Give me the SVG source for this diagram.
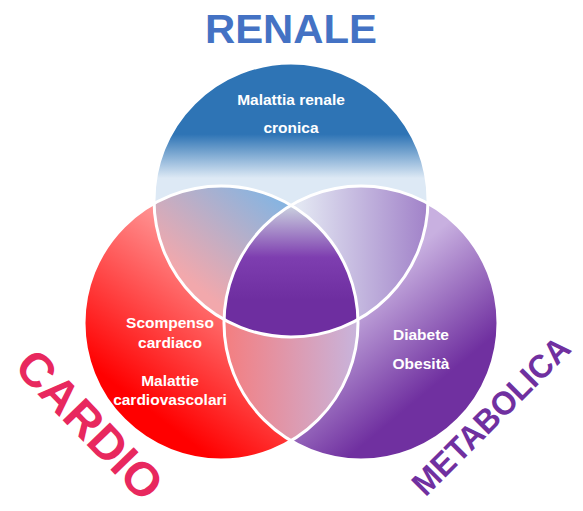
<svg xmlns="http://www.w3.org/2000/svg" width="583" height="511" viewBox="0 0 583 511">
<style>
.lbl{font-family:"Liberation Sans",Arial,sans-serif;font-weight:bold;font-size:15.5px;fill:#ffffff;text-anchor:middle}
.title{font-family:"Liberation Sans",Arial,sans-serif;font-weight:bold;text-anchor:middle}
.ring{fill:none;stroke:#ffffff;stroke-width:3}
</style>
<defs>
<linearGradient id="gTop" gradientUnits="userSpaceOnUse" x1="0" y1="63" x2="0" y2="337">
<stop offset="0" stop-color="#2E74B5"/>
<stop offset="0.26" stop-color="#2E74B5"/>
<stop offset="0.42" stop-color="#DDE9F5"/>
<stop offset="1" stop-color="#DDE9F5"/>
</linearGradient>
<linearGradient id="gLeft" gradientUnits="userSpaceOnUse" x1="285" y1="245" x2="155" y2="415">
<stop offset="0" stop-color="#FFC0C0"/>
<stop offset="1" stop-color="#FF0000"/>
</linearGradient>
<linearGradient id="gRight" gradientUnits="userSpaceOnUse" x1="360" y1="295" x2="435" y2="385">
<stop offset="0" stop-color="#C8B0E0"/>
<stop offset="1" stop-color="#7030A0"/>
</linearGradient>
<linearGradient id="gTL" gradientUnits="userSpaceOnUse" x1="270" y1="195" x2="195" y2="285">
<stop offset="0" stop-color="#88B4E0"/>
<stop offset="1" stop-color="#F2A8AC"/>
</linearGradient>
<linearGradient id="gTR" gradientUnits="userSpaceOnUse" x1="300" y1="0" x2="430" y2="0">
<stop offset="0" stop-color="#E2E6F2"/>
<stop offset="1" stop-color="#A080C8"/>
</linearGradient>
<linearGradient id="gLR" gradientUnits="userSpaceOnUse" x1="225" y1="0" x2="358" y2="0">
<stop offset="0" stop-color="#F47E80"/>
<stop offset="1" stop-color="#C8B4DC"/>
</linearGradient>
<linearGradient id="gC" gradientUnits="userSpaceOnUse" x1="0" y1="205" x2="0" y2="300">
<stop offset="0" stop-color="#CCD4E0"/>
<stop offset="0.55" stop-color="#7E3EB0"/>
<stop offset="1" stop-color="#6E2EA0"/>
</linearGradient>
<clipPath id="cTop"><circle cx="291" cy="200" r="137"/></clipPath>
<clipPath id="cLeft"><circle cx="221" cy="323" r="137"/></clipPath>
</defs>

<g id="renale">
<circle cx="291" cy="200" r="137" fill="url(#gTop)"/>
</g>
<g id="cardio">
<circle cx="221" cy="323" r="137" fill="url(#gLeft)"/>
</g>
<g id="metabolica">
<circle cx="361" cy="323" r="137" fill="url(#gRight)"/>
</g>

<g id="overlaps">
<g clip-path="url(#cTop)"><circle cx="221" cy="323" r="137" fill="url(#gTL)"/></g>
<g clip-path="url(#cTop)"><circle cx="361" cy="323" r="137" fill="url(#gTR)"/></g>
<g clip-path="url(#cLeft)"><circle cx="361" cy="323" r="137" fill="url(#gLR)"/></g>
<g clip-path="url(#cTop)"><g clip-path="url(#cLeft)"><circle cx="361" cy="323" r="137" fill="url(#gC)"/></g></g>
</g>

<g id="outlines">
<circle class="ring" cx="291" cy="200" r="137"/>
<circle class="ring" cx="221" cy="323" r="137"/>
<circle class="ring" cx="361" cy="323" r="137"/>
</g>

<g id="renale-labels">
<text class="title" x="291" y="43" font-size="40" fill="#4472C4" textLength="172" lengthAdjust="spacingAndGlyphs">RENALE</text>
<text class="lbl" x="291" y="105">Malattia renale</text>
<text class="lbl" x="291" y="133">cronica</text>
</g>
<g id="cardio-labels">
<text class="lbl" x="170" y="328">Scompenso</text>
<text class="lbl" x="170" y="348">cardiaco</text>
<text class="lbl" x="170" y="386">Malattie</text>
<text class="lbl" x="170" y="405">cardiovascolari</text>
<text class="title" font-size="47" fill="#E8285E" transform="translate(78,436) rotate(46)" textLength="188" lengthAdjust="spacingAndGlyphs">CARDIO</text>
</g>
<g id="metabolica-labels">
<text class="lbl" x="421" y="340">Diabete</text>
<text class="lbl" x="421" y="369">Obesità</text>
<text class="title" font-size="33" fill="#7030A0" transform="translate(499,424) rotate(-45)" textLength="208" lengthAdjust="spacingAndGlyphs">METABOLICA</text>
</g>
<g id="connectors"/>
</svg>
